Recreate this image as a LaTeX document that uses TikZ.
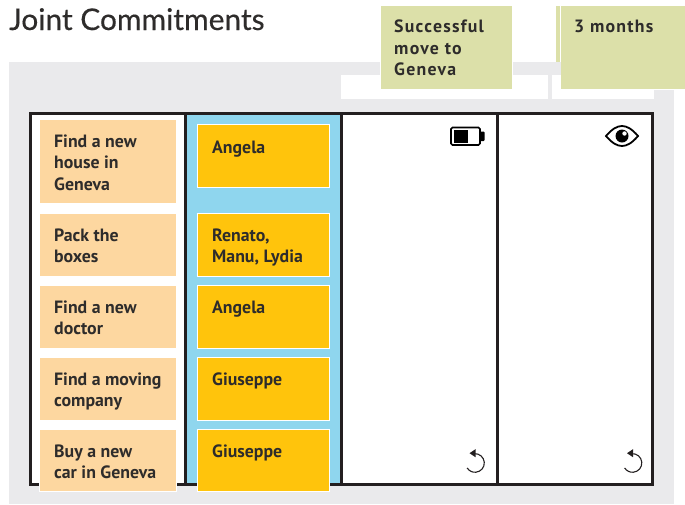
\documentclass[tikz,border=0pt]{standalone}
\usepackage{fontspec}
\setmainfont{PT Sans}
\newfontfamily\titlefont[FakeBold=0.35]{Lato}
\newfontfamily\notefont[LetterSpace=7]{PT Sans Bold}
\definecolor{bggray}{HTML}{EAEAEC}
\definecolor{ink}{HTML}{231F20}
\definecolor{txt}{HTML}{2E2C2B}
\definecolor{notegreen}{HTML}{DCE0A9}
\definecolor{peach}{HTML}{FDD7A0}
\definecolor{amber}{HTML}{FFC40C}
\definecolor{sky}{HTML}{8FD6EE}
\tikzset{
  x=1pt,y=-1pt,
  cardtext/.style={font=\fontsize{17.8}{21.5}\selectfont\bfseries,text=txt,align=left,anchor=north west,inner sep=0pt},
  notetext/.style={font=\fontsize{17.8}{21.5}\selectfont\notefont,text=txt,align=left,anchor=north west,inner sep=0pt},
  gridline/.style={draw=ink,line width=2.4pt},
  iconline/.style={draw=black,line width=1.7pt},
  undo/.style={draw=ink,line width=1.1pt}
}
\newcommand{\cardbox}[6]{% name fill x1 y1 x2 y2
  \fill[white] (#3-1,#4-1) rectangle (#5+1,#6+1);
  \fill[#2] (#3,#4) rectangle (#5,#6);
}
\newcommand{\undoicon}[2]{% centre
  \draw[undo] (#1-0.8,#2-9.3) arc[start angle=-95,end angle=148,radius=9.3];
  \fill[ink] (#1-5.5,#2-9.8) -- (#1+0.5,#2-13.8) -- (#1+0.5,#2-5.8) -- cycle;
}
\begin{document}
\begin{tikzpicture}
\useasboundingbox (0,0) rectangle (685,504);
\fill[white] (0,0) rectangle (685,504);
% grey wall
\fill[bggray] (9,62) rectangle (674,504);
\fill[white] (561,62) rectangle (685,90);
\fill[white] (341,75) rectangle (548,99);
\fill[white] (552,75) rectangle (654,99);
\fill[white] (380,62) rectangle (381,75);
\fill[white] (512,62) rectangle (513,75);
% board
\fill[white] (30.5,113.5) rectangle (652,484.5);
\fill[sky] (186,113.5) rectangle (341,484.5);
\draw[gridline,line width=3pt] (30.5,113.5) rectangle (652,484.5);
\draw[gridline] (185.5,113.5) -- (185.5,484.5);
\draw[gridline] (341.5,113.5) -- (341.5,484.5);
\draw[gridline] (497.5,113.5) -- (497.5,484.5);
% green notes
\fill[notegreen] (556,6) rectangle (560,62);
\fill[notegreen] (381,6) rectangle (512,89);
\fill[notegreen] (561,6) rectangle (685,89);
\node[notetext] (goal) at (394,20) {Successful\\move to\\Geneva};
\node[notetext] (time) at (574,20) {3 months};
% title
\node[font=\titlefont\fontsize{29.9}{32}\selectfont,text=txt,anchor=base west,inner sep=0pt] (title) at (9,30) {Joint Commitments};
% peach cards
\cardbox{a}{peach}{40}{120}{176}{203}
\cardbox{b}{peach}{40}{214}{176}{276}
\cardbox{c}{peach}{40}{286}{176}{348}
\cardbox{d}{peach}{40}{358}{176}{420}
\cardbox{e}{peach}{40}{430}{176}{491}
\node[cardtext] (t1) at (54,134.5) {Find a new\\house in\\Geneva};
\node[cardtext] (t2) at (54,228.5) {Pack the\\boxes};
\node[cardtext] (t3) at (54,300.5) {Find a new\\doctor};
\node[cardtext] (t4) at (54,372.5) {Find a moving\\company};
\node[cardtext] (t5) at (54,444.5) {Buy a new\\car in Geneva};
% amber cards
\cardbox{f}{amber}{198}{125}{329}{187}
\cardbox{g}{amber}{198}{214}{329}{276}
\cardbox{h}{amber}{198}{286}{329}{348}
\cardbox{i}{amber}{198}{358}{329}{420}
\cardbox{j}{amber}{198}{430}{329}{491}
\node[cardtext] (p1) at (212,140.5) {Angela};
\node[cardtext] (p2) at (212,228.5) {Renato,\\Manu, Lydia};
\node[cardtext] (p3) at (212,300.5) {Angela};
\node[cardtext] (p4) at (212,372.5) {Giuseppe};
\node[cardtext] (p5) at (212,444.5) {Giuseppe};
% battery
\draw[iconline,rounded corners=1.5pt] (451,127.5) rectangle (480,145);
\fill[black] (453.5,130) rectangle (468,142.5);
\fill[black,rounded corners=0.8pt] (480,131.5) rectangle (484.5,141);
% eye
\draw[draw=black,line width=1.8pt] (606,136) .. controls (612,129) and (617,126) .. (622,126) .. controls (627,126) and (632,129) .. (638,136) .. controls (632,143) and (627,146) .. (622,146) .. controls (617,146) and (612,143) .. (606,136) -- cycle;
\fill[black] (622,136) circle (6.5);
\fill[white] (624.5,133.5) circle (2.2);
% undo icons
\undoicon{475}{463}
\undoicon{632.5}{463}
\end{tikzpicture}
\end{document}
